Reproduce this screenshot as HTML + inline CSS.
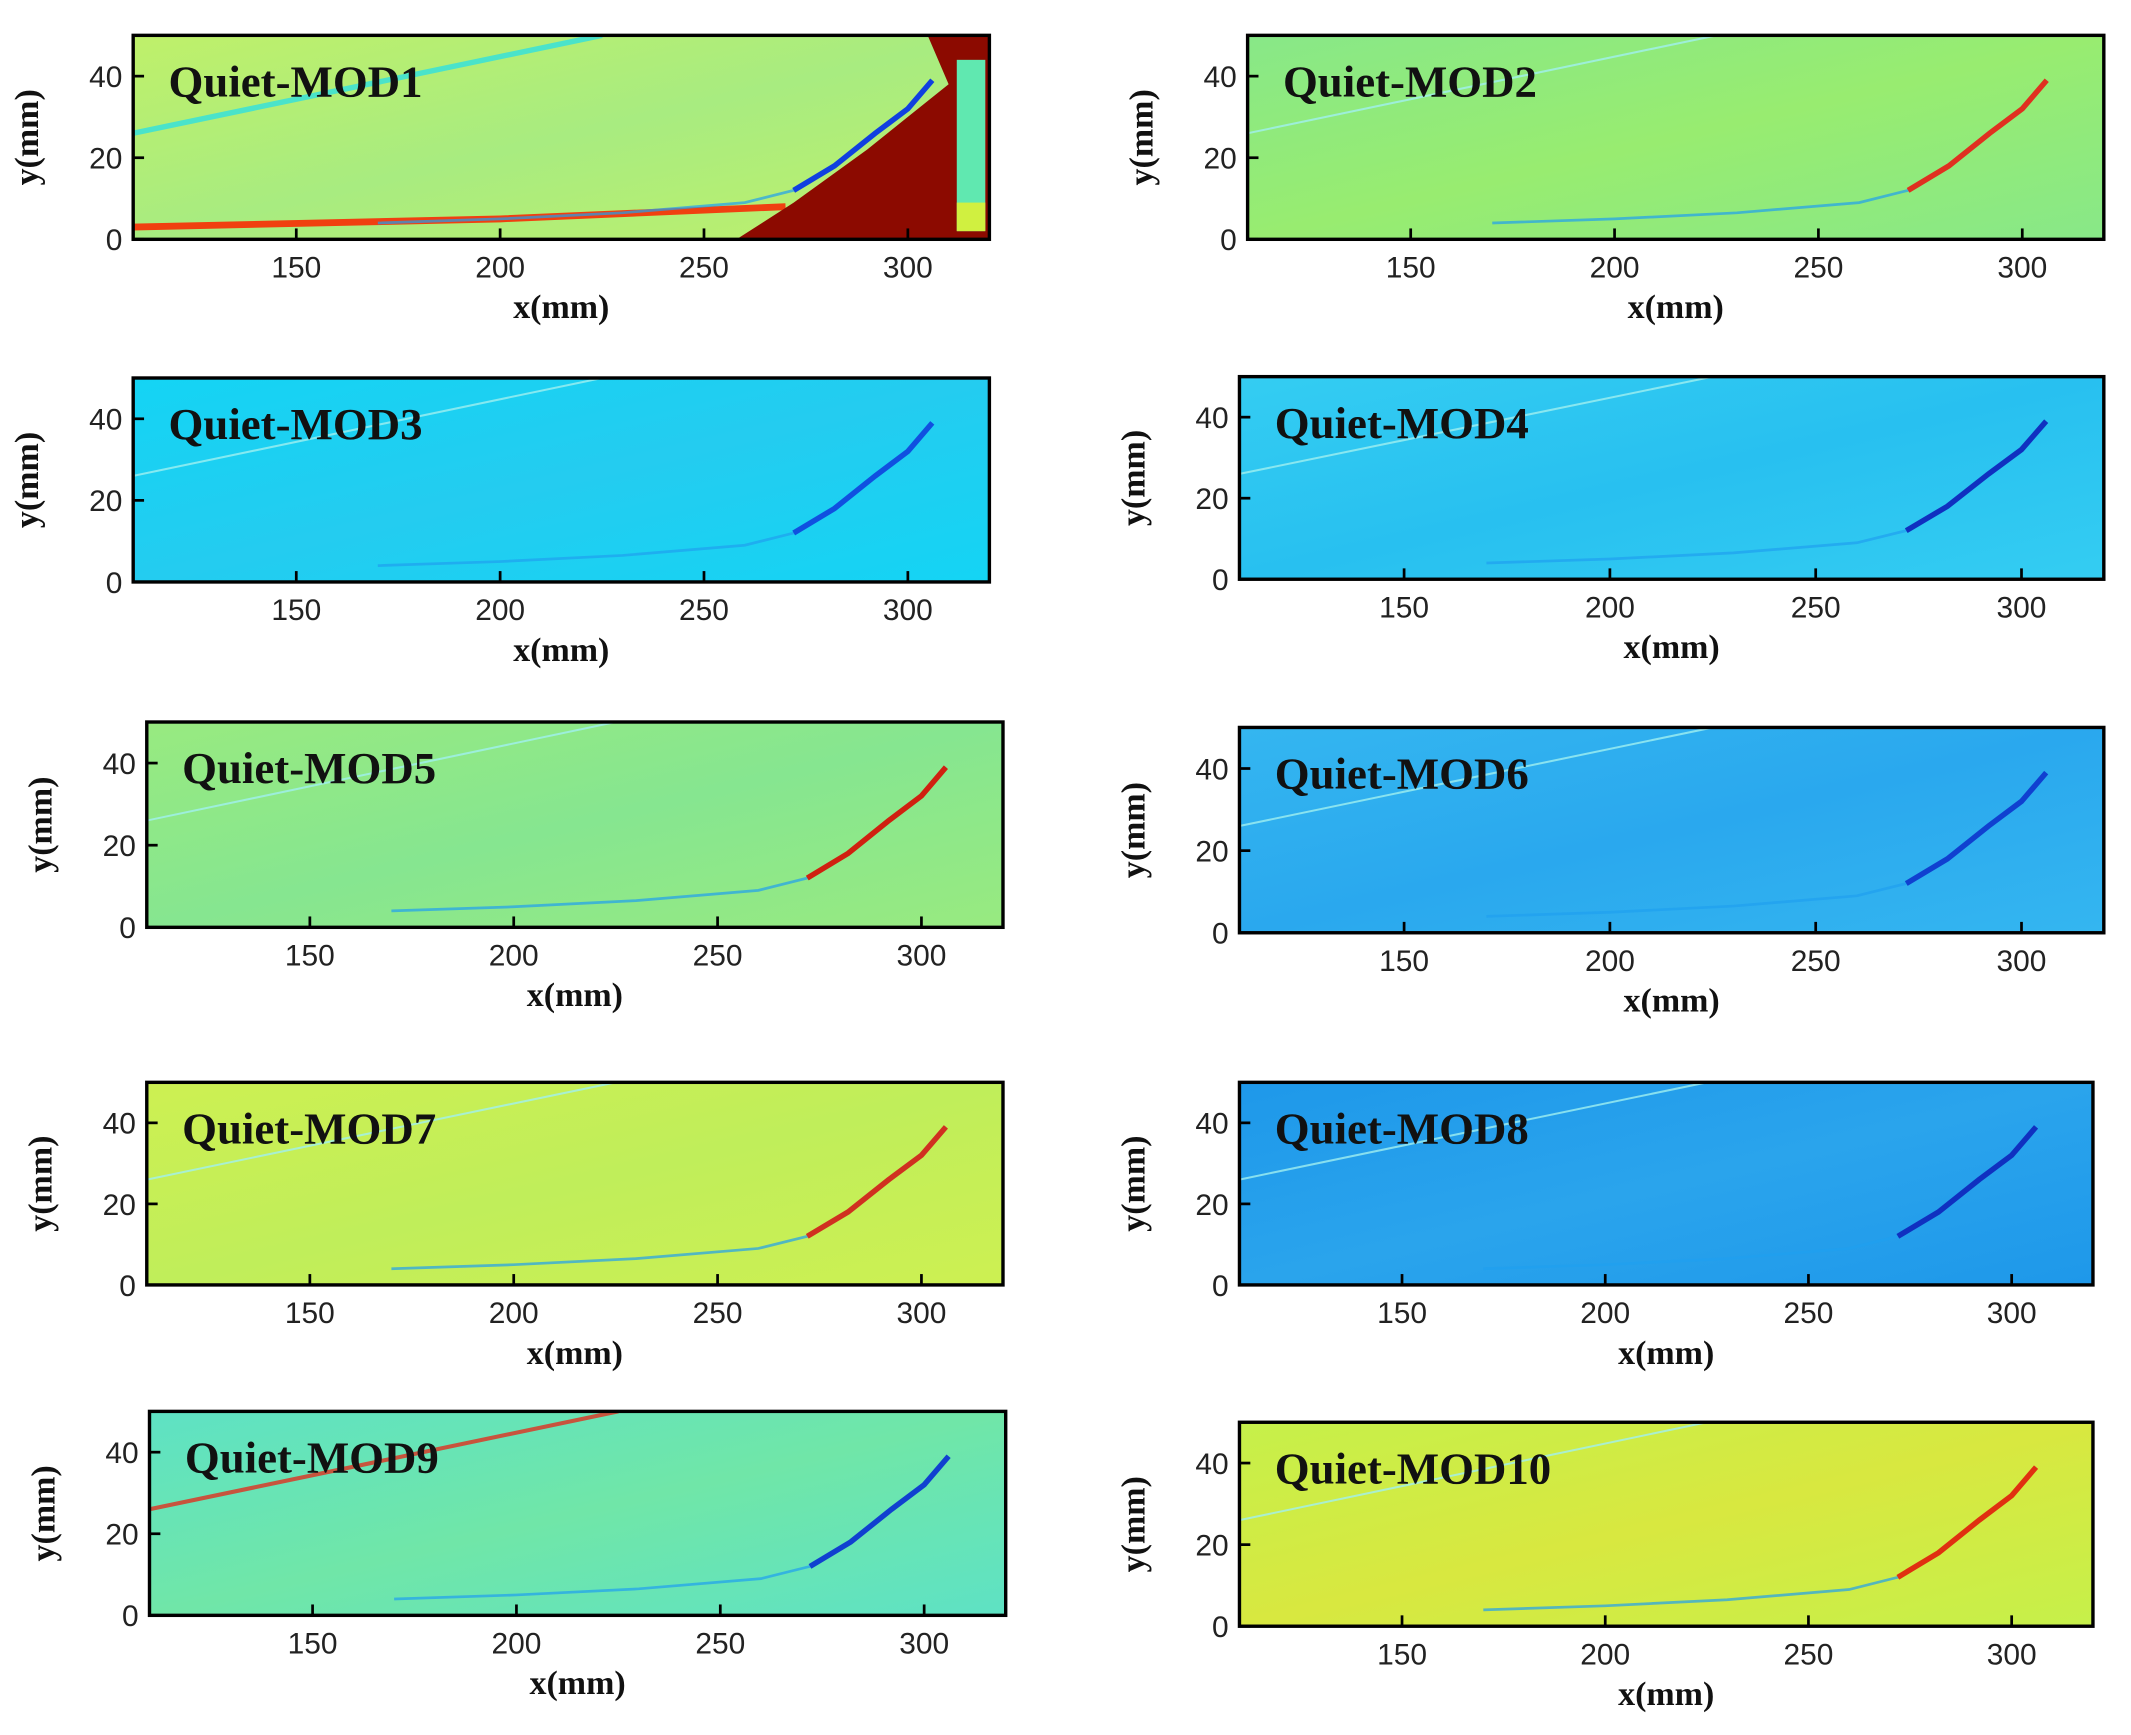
<!DOCTYPE html>
<html><head><meta charset="utf-8"><style>
html,body{margin:0;padding:0;background:#fff;}
svg{display:block;}
.tk{font-family:"Liberation Sans",Arial,sans-serif;font-size:22px;fill:#222;}
.al{font-family:"Liberation Serif","Times New Roman",serif;font-size:25px;font-weight:bold;fill:#111;}
.tt{font-family:"Liberation Serif","Times New Roman",serif;font-size:33px;font-weight:bold;fill:#111;}
</style></head><body>
<svg id="fig" width="2131" height="1735" viewBox="0 0 1568 1276" preserveAspectRatio="none" xmlns="http://www.w3.org/2000/svg"></svg>
<script>
// data arrays
const panelTitles = ["Quiet-MOD1","Quiet-MOD2","Quiet-MOD3","Quiet-MOD4","Quiet-MOD5","Quiet-MOD6","Quiet-MOD7","Quiet-MOD8","Quiet-MOD9","Quiet-MOD10"];
const xTicks = [150,200,250,300];
const yTicks = [0,20,40];
const xRange = [110,320];
const yRange = [0,50];
const bgColors = ["#bff06a","#88e888","#14d4f4","#34cdf2","#98ea80","#34b6f0","#cdf052","#1e98ea","#5ee2c4","#c6f04a"];
const bgColors2 = ["#a8ec80","#98ec70","#24ccf0","#28c0f0","#86e690","#2aa8ee","#c0ee5a","#2aa4ec","#70e6a8","#d8e840"];
const shockX = [170,200,230,260,272,282,292,300,306];
const shockY = [4,5,6.5,9,12,18,26,32,39];
const leadX = [110,225];
const leadY = [26,50];
const shockColors = ["#1040e0","#e03020","#1050e0","#1030c0","#d02010","#1040d0","#d03020","#1030c0","#1040d0","#e03010"];

// layout (display units)
const boxes = [
 [98,26,728,176],[918,26,1548,176],
 [98,278,728,428],[912,277,1548,426],
 [108,531,738,682],[912,535,1548,686],
 [108,796,738,945],[912,796,1540,945],
 [110,1038,740,1188],[912,1046,1540,1196]
];
const NS="http://www.w3.org/2000/svg";
const svg=document.getElementById('fig');
function mk(tag,attrs,parent){const e=document.createElementNS(NS,tag);for(const k in attrs)e.setAttribute(k,attrs[k]);(parent||svg).appendChild(e);return e;}
const defs=mk('defs',{});
boxes.forEach((b,i)=>{
  const [x0,y0,x1,y1]=b;
  const sx=v=>x0+(v-xRange[0])/(xRange[1]-xRange[0])*(x1-x0);
  const sy=v=>y1-(v-yRange[0])/(yRange[1]-yRange[0])*(y1-y0);
  const g=mk('g',{});
  
  
  const gr=mk('linearGradient',{id:'g'+i,x1:'0',y1:'0',x2:'1',y2:'1'},defs);
  mk('stop',{offset:'0',  'stop-color':bgColors[i]},gr);
  mk('stop',{offset:'0.5','stop-color':bgColors2[i]},gr);
  mk('stop',{offset:'1',  'stop-color':bgColors[i]},gr);
  const cp=mk('clipPath',{id:'c'+i},defs);
  mk('rect',{x:x0,y:y0,width:x1-x0,height:y1-y0},cp);
  const bg=mk('rect',{x:x0,y:y0,width:x1-x0,height:y1-y0,fill:'url(#g'+i+')'},g);
  
  
  const cg=mk('g',{'clip-path':'url(#c'+i+')'},g);
  if(i===0){
    const band=mk('polyline',{points:[[110,3],[200,5],[270,8]].map(p=>sx(p[0])+','+sy(p[1])).join(' '),fill:'none',stroke:'#f04010','stroke-width':5},cg);
    
    
    const poly=[[258,0],[272,9],[290,22],[300,30],[310,38],[304,52],[322,52],[322,0]];
    const dr=mk('polygon',{points:poly.map(p=>sx(p[0])+','+sy(p[1])).join(' '),fill:'#8c0a00'},cg);
    
    
    mk('rect',{x:sx(312),y:sy(44),width:sx(319)-sx(312),height:sy(2)-sy(44),fill:'#60e8b0'},cg);
    mk('rect',{x:sx(312),y:sy(9),width:sx(319)-sx(312),height:sy(2)-sy(9),fill:'#d0f040'},cg);
  }
  const lead=mk('line',{x1:sx(leadX[0]),y1:sy(leadY[0]),x2:sx(leadX[1]),y2:sy(leadY[1]),stroke:i===0?'#30e0e0':(i===8?'#e03020':'#a0f0f0'),'stroke-width':i===0?4:(i===8?3:1.5),opacity:0.8},cg);
  
  
  const pts=shockX.map((v,k)=>sx(v)+','+sy(shockY[k])).join(' ');
  const s1=mk('polyline',{points:pts,fill:'none',stroke:'#20a0f0','stroke-width':2,opacity:0.7},cg);
  
  
  const pts2=shockX.slice(4).map((v,k)=>sx(v)+','+sy(shockY[k+4])).join(' ');
  const s2=mk('polyline',{points:pts2,fill:'none',stroke:shockColors[i],'stroke-width':4},cg);
  
  
  // frame
  const fr=mk('rect',{x:x0,y:y0,width:x1-x0,height:y1-y0,fill:'none',stroke:'#000','stroke-width':2.5},g);
  
  
  xTicks.forEach(v=>{
    mk('line',{x1:sx(v),x2:sx(v),y1:y1,y2:y1-8,stroke:'#000','stroke-width':2},g);
    const t=mk('text',{x:sx(v),y:y1+28,'text-anchor':'middle',class:'tk'},g);
    t.textContent=v;
    
    
  });
  yTicks.forEach(v=>{
    mk('line',{x1:x0,x2:x0+8,y1:sy(v),y2:sy(v),stroke:'#000','stroke-width':2},g);
    const t=mk('text',{x:x0-8,y:sy(v)+8,'text-anchor':'end',class:'tk'},g);
    t.textContent=v;
    
    
  });
  const xl=mk('text',{x:(x0+x1)/2,y:y1+58,'text-anchor':'middle',class:'al'},g);
  xl.textContent='x(mm)';
  
  
  const yx=x0-70, yc=(y0+y1)/2;
  const yl=mk('text',{x:yx,y:yc,'text-anchor':'middle',class:'al',transform:'rotate(-90 '+yx+' '+yc+')'},g);
  yl.textContent='y(mm)';
  
  
  const tt=mk('text',{x:x0+26,y:y0+45,class:'tt'},g);
  tt.textContent=panelTitles[i];
  
  
});
</script>
</body></html>
